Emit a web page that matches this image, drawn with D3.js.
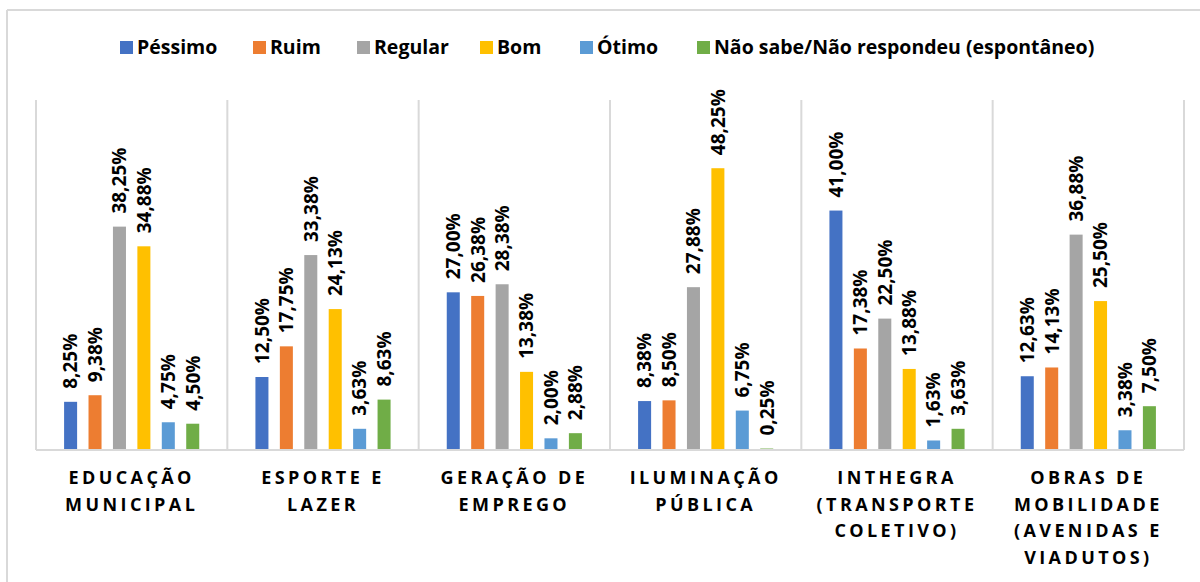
<!DOCTYPE html>
<html>
<head>
<meta charset="utf-8">
<script src="https://d3js.org/d3.v7.min.js"></script>
<style>
  body { margin: 0; background: #fff; }
  text { font-family: "Open Sans", sans-serif; font-weight: bold; fill: #000; }
</style>
</head>
<body>
<div id="chart"></div>
<script>
// data
const categories = ["Educação Municipal", "Esporte e Lazer", "Geração de Emprego",
  "Iluminação Pública", "Inthegra (Transporte Coletivo)", "Obras de Mobilidade (Avenidas e Viadutos)"];
const categoryLines = [
  ["EDUCAÇÃO", "MUNICIPAL"],
  ["ESPORTE E", "LAZER"],
  ["GERAÇÃO DE", "EMPREGO"],
  ["ILUMINAÇÃO", "PÚBLICA"],
  ["INTHEGRA", "(TRANSPORTE", "COLETIVO)"],
  ["OBRAS DE", "MOBILIDADE", "(AVENIDAS E", "VIADUTOS)"]
];
const seriesNames = ["Péssimo", "Ruim", "Regular", "Bom", "Ótimo", "Não sabe/Não respondeu (espontâneo)"];
const seriesColors = ["#4472c4", "#ed7d31", "#a5a5a5", "#ffc000", "#5b9bd5", "#70ad47"];

const pessimo = [8.25, 12.50, 27.00, 8.38, 41.00, 12.63];
const ruim    = [9.38, 17.75, 26.38, 8.50, 17.38, 14.13];
const regular = [38.25, 33.38, 28.38, 27.88, 22.50, 36.88];
const bom     = [34.88, 24.13, 13.38, 48.25, 13.88, 25.50];
const otimo   = [4.75, 3.63, 2.00, 6.75, 1.63, 3.38];
const naoSabe = [4.50, 8.63, 2.88, 0.25, 3.63, 7.50];
const seriesValues = [pessimo, ruim, regular, bom, otimo, naoSabe];

const W = 1200, H = 582;
const plot = { left: 36, right: 1184, top: 100, bottom: 450 };

const svg = d3.select("#chart").append("svg")
  .attr("width", W).attr("height", H);

// outer frame (only top and left edges show)
svg.append("line").attr("x1", 7).attr("x2", W).attr("y1", 10).attr("y2", 10)
  .attr("stroke", "#d9d9d9").attr("stroke-width", 2);
svg.append("line").attr("x1", 7).attr("x2", 7).attr("y1", 10).attr("y2", H)
  .attr("stroke", "#d9d9d9").attr("stroke-width", 2);

const x0 = d3.scaleBand().domain(categories).range([plot.left, plot.right]).padding(0);
const x1 = d3.scaleBand().domain(seriesNames).range([0, x0.bandwidth()])
  .paddingInner(0.467).paddingOuter(1.15);
const y = d3.scaleLinear().domain([0, 50]).range([plot.bottom, plot.bottom - 50 * 5.84]);

// vertical separators between categories
const edges = categories.map(c => x0(c)).concat([plot.right]);
svg.append("g").selectAll("line").data(edges).join("line")
  .attr("x1", d => d).attr("x2", d => d)
  .attr("y1", plot.top).attr("y2", plot.bottom)
  .attr("stroke", "#d9d9d9").attr("stroke-width", 2);

// baseline
svg.append("line").attr("x1", plot.left).attr("x2", plot.right)
  .attr("y1", plot.bottom).attr("y2", plot.bottom)
  .attr("stroke", "#d9d9d9").attr("stroke-width", 2);

// bars + labels
const flat = [];
categories.forEach((c, i) => {
  seriesNames.forEach((s, j) => {
    flat.push({ cat: c, series: s, value: seriesValues[j][i], color: seriesColors[j] });
  });
});

const groups = svg.append("g").selectAll("g").data(flat).join("g")
  .attr("transform", d => `translate(${x0(d.cat) + x1(d.series)},0)`);

groups.append("rect")
  .attr("x", 0)
  .attr("width", x1.bandwidth())
  .attr("y", d => y(d.value))
  .attr("height", d => y(0) - y(d.value) - 1)
  .attr("fill", d => d.color);

groups.append("text")
  .attr("transform", d => `translate(${x1.bandwidth() / 2},${y(d.value) - 13}) rotate(-90)`)
  .attr("dy", "0.36em")
  .attr("font-size", 19)
  .text(d => d.value.toFixed(2).replace(".", ",") + "%");

// category labels
const catLabels = svg.append("g").selectAll("text").data(categories).join("text")
  .attr("x", d => x0(d) + x0.bandwidth() / 2)
  .attr("y", 484)
  .attr("text-anchor", "middle")
  .attr("font-size", 18)
  .attr("letter-spacing", 3.4);
catLabels.each(function (d, i) {
  d3.select(this).selectAll("tspan").data(categoryLines[i]).join("tspan")
    .attr("x", x0(d) + x0.bandwidth() / 2)
    .attr("dy", (t, k) => k === 0 ? 0 : 26.5)
    .text(t => t);
});

// legend
const legendX = [120, 253, 357, 480, 580, 697];
const legend = svg.append("g").selectAll("g").data(seriesNames).join("g")
  .attr("transform", (d, i) => `translate(${legendX[i]},47)`);
legend.append("rect")
  .attr("x", 0).attr("y", -6).attr("width", 13).attr("height", 13)
  .attr("fill", (d, i) => seriesColors[i]);
legend.append("text")
  .attr("x", 17).attr("y", 0).attr("dy", "0.36em")
  .attr("font-size", 19.5)
  .text(d => d);
</script>
</body>
</html>
